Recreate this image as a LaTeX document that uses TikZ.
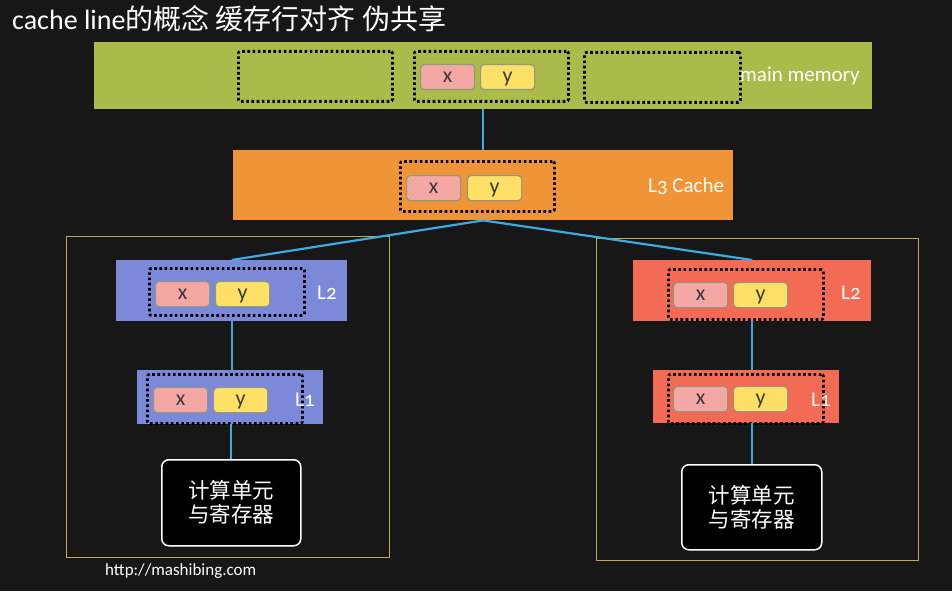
\documentclass[tikz,border=0pt]{standalone}
\usepackage{fontspec}
\setmainfont{Carlito}
\newfontfamily\cjk{Noto Sans CJK SC}
\newfontfamily\oldnum[Numbers=OldStyle]{Carlito}
\definecolor{bgc}{HTML}{171717}
\definecolor{olivec}{HTML}{ABBA4B}
\definecolor{orangec}{HTML}{EF9537}
\definecolor{periwc}{HTML}{7C88D8}
\definecolor{tomatoc}{HTML}{F36A55}
\definecolor{pinkc}{HTML}{F5A7A3}
\definecolor{yellowc}{HTML}{FFE066}
\definecolor{linkc}{HTML}{3FAAE0}
\definecolor{framec}{HTML}{BFA557}
\definecolor{cellb}{HTML}{8C9A86}
\definecolor{celltext}{HTML}{3A3A3A}
\begin{document}
\begin{tikzpicture}[x=1pt,y=-1pt,
  bar/.style={rectangle,draw=none,anchor=north west,inner sep=0pt},
  dotbox/.style={rectangle,draw=black,line width=2.8pt,dash pattern=on 2.6pt off 2.6pt,rounded corners=2pt,anchor=north west,inner sep=0pt},
  cell/.style={rectangle,draw=cellb,line width=1.2pt,rounded corners=3.5pt,anchor=north west,inner sep=0pt,minimum width=54pt,minimum height=25pt,text=celltext,font=\fontsize{22}{22}\selectfont,text height=10.5pt,text depth=0pt},
  xcell/.style={cell,fill=pinkc},
  ycell/.style={cell,fill=yellowc},
  link/.style={draw=linkc,line width=2.2pt},
  frame/.style={rectangle,draw=framec,line width=1pt,anchor=north west,inner sep=0pt},
  lab/.style={text=white,inner sep=0pt,font=\fontsize{21}{21}\selectfont},
  cpu/.style={rectangle,draw=white,line width=1.5pt,fill=black,rounded corners=7pt,anchor=north west,inner sep=0pt,text=white,align=center,font=\cjk\fontsize{21.5}{24}\selectfont}
]
\useasboundingbox (0,0) rectangle (952,591);
\fill[bgc] (0,0) rectangle (952,591);

% title
\node[anchor=west,text=white,inner sep=0pt,font=\fontsize{28}{30}\selectfont] (title) at (12,19) {cache line{\cjk 的概念 缓存行对齐 伪共享}};

% frames
\node[frame,minimum width=323pt,minimum height=321pt] (fa) at (66,236) {};
\node[frame,minimum width=322pt,minimum height=322pt] (fb) at (596,238) {};

% main memory
\node[bar,fill=olivec,minimum width=778pt,minimum height=67pt] (mm) at (94,42) {};
\node[dotbox,minimum width=154pt,minimum height=50pt] (mmd1) at (237,50) {};
\node[dotbox,minimum width=154pt,minimum height=50pt] (mmd2) at (413,50) {};
\node[dotbox,minimum width=156pt,minimum height=50pt] (mmd3) at (583,51) {};
\node[xcell] (mmx) at (420,64) {x};
\node[ycell] (mmy) at (480,64) {y};
\node[lab,anchor=west] (mmlab) at (740,76) {main memory};

% L3
\node[bar,fill=orangec,minimum width=500pt,minimum height=70pt] (l3) at (233,150) {};
\node[dotbox,minimum width=154pt,minimum height=50pt] (l3d) at (399,160) {};
\node[xcell] (l3x) at (406,175) {x};
\node[ycell] (l3y) at (467,175) {y};
\node[lab,anchor=west] (l3lab) at (648,186) {L{\oldnum 3} Cache};

% left core
\node[bar,fill=periwc,minimum width=231pt,minimum height=61pt] (l2a) at (116,260) {};
\node[dotbox,minimum width=155pt,minimum height=47pt] (l2ad) at (148,267) {};
\node[xcell] (l2ax) at (155,281) {x};
\node[ycell] (l2ay) at (215,281) {y};
\node[lab,anchor=west] (l2alab) at (317,293) {L{\oldnum 2}};

\node[bar,fill=periwc,minimum width=186pt,minimum height=54pt] (l1a) at (137,370) {};
\node[dotbox,minimum width=155pt,minimum height=49pt] (l1ad) at (146,373) {};
\node[xcell] (l1ax) at (153,387) {x};
\node[ycell] (l1ay) at (213,387) {y};
\node[lab,anchor=west] (l1alab) at (295,400) {L{\oldnum 1}};

\node[cpu,minimum width=139pt,minimum height=86pt] (cpua) at (161,459) {计算单元\\与寄存器};

% right core
\node[bar,fill=tomatoc,minimum width=238pt,minimum height=61pt] (l2b) at (633,260) {};
\node[dotbox,minimum width=155pt,minimum height=50pt] (l2bd) at (667,268) {};
\node[xcell] (l2bx) at (673,282) {x};
\node[ycell] (l2by) at (733,282) {y};
\node[lab,anchor=west] (l2blab) at (841,293) {L{\oldnum 2}};

\node[bar,fill=tomatoc,minimum width=186pt,minimum height=53pt] (l1b) at (653,370) {};
\node[dotbox,minimum width=155pt,minimum height=49pt] (l1bd) at (667,373) {};
\node[xcell] (l1bx) at (673,386) {x};
\node[ycell] (l1by) at (733,386) {y};
\node[lab,anchor=west] (l1blab) at (811,400) {L{\oldnum 1}};

\node[cpu,minimum width=140pt,minimum height=85pt] (cpub) at (681,464) {计算单元\\与寄存器};

% connectors
\draw[link] (mm.south) -- (l3.north);
\draw[link] (l3.south) -- (l2a.north);
\draw[link] (l3.south) -- (l2b.north);
\draw[link] (l2a.south) -- (l2a.south |- l1a.north);
\draw[link] (l1a.south -| cpua.north) -- (cpua.north);
\draw[link] (l2b.south) -- (l2b.south |- l1b.north);
\draw[link] (l1b.south -| cpub.north) -- (cpub.north);

% footer
\node[anchor=west,text=white,inner sep=0pt,font=\fontsize{17}{17}\selectfont] (url) at (105,571) {http://mashibing.com};
\end{tikzpicture}
\end{document}
